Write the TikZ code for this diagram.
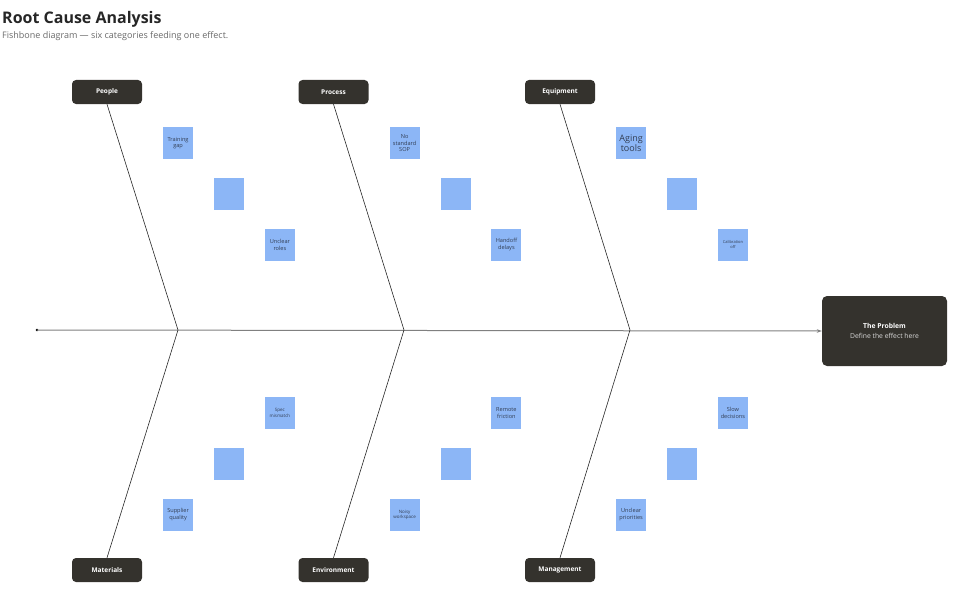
\documentclass[tikz,border=0pt]{standalone}
\usepackage{fontspec}
\setmainfont{Open Sans}
\usetikzlibrary{positioning}
\usetikzlibrary{arrows.meta}

\definecolor{boxdark}{RGB}{52,50,45}
\definecolor{notefill}{RGB}{140,182,246}
\definecolor{notetext}{RGB}{50,62,84}
\definecolor{spinecol}{RGB}{128,128,128}
\definecolor{subgray}{RGB}{105,105,105}

\begin{document}
\begin{tikzpicture}[x=1pt,y=-1pt,
  catbox/.style={fill=boxdark,rounded corners=4pt,minimum width=70pt,minimum height=24pt,
    text=white,font=\fontsize{6.5}{8}\selectfont\bfseries},
  note/.style={fill=notefill,minimum width=30pt,minimum height=32pt,inner sep=0pt,
    align=center,text=notetext,font=\fontsize{5.6}{6.8}\selectfont},
  bone/.style={draw=black!85,line width=0.6pt}]
\useasboundingbox (0,0) rectangle (972,610);

% heading
\node[anchor=base west,inner sep=0pt,font=\fontsize{16}{18}\selectfont\bfseries,text=black!85] (title) at (2,23.5) {Root Cause Analysis};
\node[anchor=base west,inner sep=0pt,font=\fontsize{9}{10}\selectfont,text=subgray] (sub) at (2,38.5) {Fishbone diagram — six categories feeding one effect.};

% effect box and spine
\node[fill=boxdark,rounded corners=5pt,minimum width=125pt,minimum height=70pt,align=center,
  text=white,font=\fontsize{6.8}{9.5}\selectfont] (problem) at (884.5,331)
  {\textbf{The Problem}\\{\color{white!85!black}Define the effect here}};
\coordinate (tail) at (37,330);
\coordinate (j1) at (178,330);
\coordinate (j2) at (404,330);
\coordinate (j3) at (630,330);
\fill[black] (tail) circle (1.3pt);
\draw[spinecol,line width=1pt,-{Stealth[length=5pt,width=3.5pt]}] (tail) -- (problem.west);

% categories
\node[catbox] (people) at (107,92) {People};
\node[catbox] (process) at (333.5,92) {Process};
\node[catbox] (equip) at (560,92) {Equipment};
\node[catbox] (mater) at (107,570) {Materials};
\node[catbox] (envir) at (333.5,570) {Environment};
\node[catbox] (manag) at (560,570) {Management};

% bones
\draw[bone] (people.south) -- (j1) -- (mater.north);
\draw[bone] (process.south) -- (j2) -- (envir.north);
\draw[bone] (equip.south) -- (j3) -- (manag.north);

% causes, upper half
\begin{scope}[node distance=18.5pt and 20.5pt]
\node[note] (pb) at (229,194) {};
\node[note,above left=of pb] (p1) {Training\\gap};
\node[note,below right=of pb] (p2) {Unclear\\roles};
\node[note] (rb) at (455.5,194) {};
\node[note,above left=of rb] (r1) {No\\standard\\SOP};
\node[note,below right=of rb] (r2) {Handoff\\delays};
\node[note] (eb) at (682,194) {};
\node[note,above left=of eb,font=\fontsize{9}{10.5}\selectfont] (e1) {Aging\\tools};
\node[note,below right=of eb,font=\fontsize{4}{5}\selectfont] (e2) {Calibration\\off};
\end{scope}

% causes, lower half
\begin{scope}[node distance=18.5pt and 20.5pt]
\node[note] (mb) at (229,464) {};
\node[note,above right=of mb,font=\fontsize{4.5}{5.8}\selectfont] (m1) {Spec\\mismatch};
\node[note,below left=of mb] (m2) {Supplier\\quality};
\node[note] (vb) at (455.5,464) {};
\node[note,above right=of vb] (v1) {Remote\\friction};
\node[note,below left=of vb,font=\fontsize{4.5}{5.8}\selectfont] (v2) {Noisy\\workspace};
\node[note] (gb) at (682,464) {};
\node[note,above right=of gb] (g1) {Slow\\decisions};
\node[note,below left=of gb] (g2) {Unclear\\priorities};
\end{scope}
\end{tikzpicture}
\end{document}
